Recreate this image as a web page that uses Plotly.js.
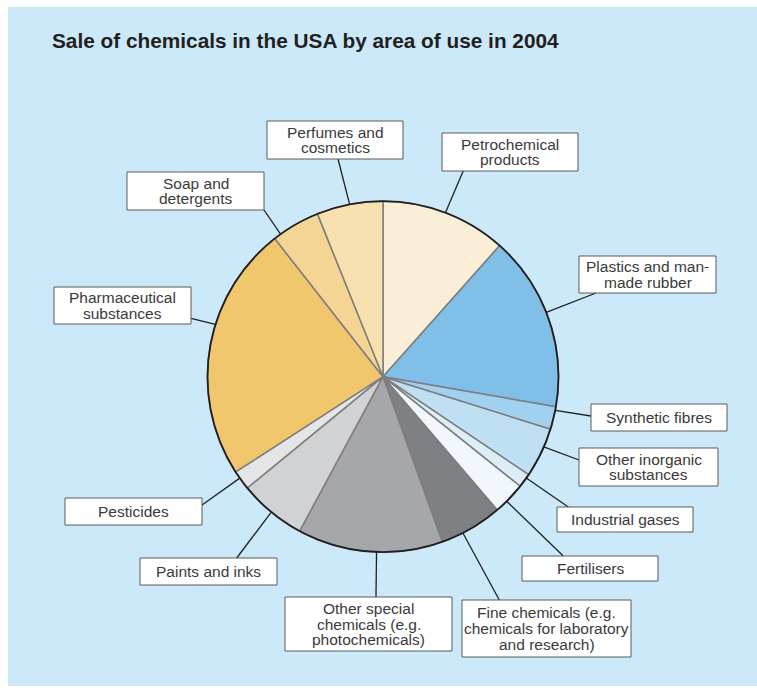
<!DOCTYPE html>
<html><head><meta charset="utf-8">
<script src="https://cdn.plot.ly/plotly-3.0.1.min.js"></script>
<style>
html,body{margin:0;padding:0;background:#ffffff;width:757px;height:692px;overflow:hidden}
#chart{position:absolute;left:8px;top:7px;width:749px;height:679px}
</style>
</head><body><div id="chart"></div>
<script>
// ---- data ----
const categories = ["Petrochemical products","Plastics and man-made rubber","Synthetic fibres",
  "Other inorganic substances","Industrial gases","Fertilisers",
  "Fine chemicals (e.g. chemicals for laboratory and research)",
  "Other special chemicals (e.g. photochemicals)","Paints and inks","Pesticides",
  "Pharmaceutical substances","Soap and detergents","Perfumes and cosmetics"];
const values = [11.6, 16.2, 2.1, 4.6, 1.3, 3.0, 5.8, 13.4, 6.2, 1.8, 23.6, 4.5, 6.1];
const sliceColors = ["#faeed7","#7fbfe8","#a0d1f0","#bfdff3","#dcedf8","#f1f7fc",
  "#7f8084","#a6a7ab","#d1d2d4","#e4e5e7","#f1c76e","#f5d593","#f8e1b1"];
const labelLines = [
  ["Petrochemical","products"],
  ["Plastics and man-","made rubber"],
  ["Synthetic fibres"],
  ["Other inorganic","substances"],
  ["Industrial gases"],
  ["Fertilisers"],
  ["Fine chemicals (e.g.","chemicals for laboratory","and research)"],
  ["Other special","chemicals (e.g.","photochemicals)"],
  ["Paints and inks"],
  ["Pesticides"],
  ["Pharmaceutical","substances"],
  ["Soap and","detergents"],
  ["Perfumes and","cosmetics"]
];
const titleText = "Sale of chemicals in the USA by area of use in 2004";

// ---- layout constants (page pixels) ----
const OX = 8, OY = 7, W = 749, H = 679;
const CX = 383, CY = 376.7, R = 175.5;
const boxes = [
  [442,133,578,171],[579,256,716,293],[591,404,727,431],[579,448,718,486],
  [557,507,693,532],[522,556,658,581],[462,600,631,657],[285,597,452,651],
  [140,558,277,585],[65,498,202,525],[54,287,191,324],[127,172,264,210],[267,121,403,159]
];
const anchors = [
  [463.3,170.7],[596,293],[591,416],[579,460],[568.3,507],[563.3,556],[499.3,600],
  [376,597],[236.7,558],[202,505],[191,318.3],[264,210],[338,159]
];
const tipOffsets = [0,-2.3,-2.6,-2.1,-1,1.2,3.1,-2.2,0,0.8,7.8,-5.7,0];
const FONT = "Liberation Sans, Arial, Helvetica, sans-serif";
const LINE_GAP = 15.6;

function px(x){ return (x - OX) / W; }
function py(y){ return 1 - (y - OY) / H; }

const total = values.reduce((a,b)=>a+b,0);
let cum = 0;
const mids = values.map(v => { const m = (cum + v/2) / total * 360; cum += v; return m; });

const shapes = [];
const annotations = [];

categories.forEach((c, i) => {
  const ang = (mids[i] + tipOffsets[i]) * Math.PI / 180;
  const tx = CX + R * Math.sin(ang), ty = CY - R * Math.cos(ang);
  const [ax, ay] = anchors[i];
  shapes.push({type:"line", xref:"paper", yref:"paper",
    x0:px(tx), y0:py(ty), x1:px(ax), y1:py(ay),
    line:{color:"#231f20", width:1.3}});
  const b = boxes[i];
  shapes.push({type:"rect", xref:"paper", yref:"paper",
    x0:px(b[0]), y0:py(b[3]), x1:px(b[2]), y1:py(b[1]),
    fillcolor:"#ffffff", line:{color:"#5a5a5a", width:1}});
  const lines = labelLines[i];
  const bcx = (b[0]+b[2])/2, bcy = (b[1]+b[3])/2;
  lines.forEach((t, k) => {
    const yy = bcy + (k - (lines.length-1)/2) * LINE_GAP;
    annotations.push({text:t, xref:"paper", yref:"paper", x:px(bcx), y:py(yy),
      xanchor:"center", yanchor:"middle", showarrow:false,
      font:{family:FONT, size:15.5, color:"#3a3a3a"}});
  });
});

// outer dark rim of the pie
shapes.push({type:"circle", xref:"paper", yref:"paper",
  x0:px(CX-R), x1:px(CX+R), y0:py(CY+R), y1:py(CY-R),
  line:{color:"#231f20", width:1.8}, fillcolor:"rgba(0,0,0,0)"});

annotations.push({text:"<b>"+titleText+"</b>", xref:"paper", yref:"paper",
  x:px(50), y:py(40), xanchor:"left", yanchor:"middle", showarrow:false,
  font:{family:FONT, size:20.8, color:"#231f20"}});

const trace = {
  type:"pie", labels:categories, values:values, sort:false,
  direction:"clockwise", rotation:0,
  marker:{colors:sliceColors, line:{color:"#7d7d7d", width:1.5}},
  textinfo:"none", hoverinfo:"skip", showlegend:false,
  domain:{x:[px(CX-R), px(CX+R)], y:[py(CY+R), py(CY-R)]}
};

Plotly.newPlot("chart", [trace], {
  width:W, height:H, margin:{l:0,r:0,t:0,b:0},
  paper_bgcolor:"#cbe9f9", showlegend:false,
  shapes:shapes, annotations:annotations
}, {displayModeBar:false, staticPlot:true});
</script>
</body></html>
